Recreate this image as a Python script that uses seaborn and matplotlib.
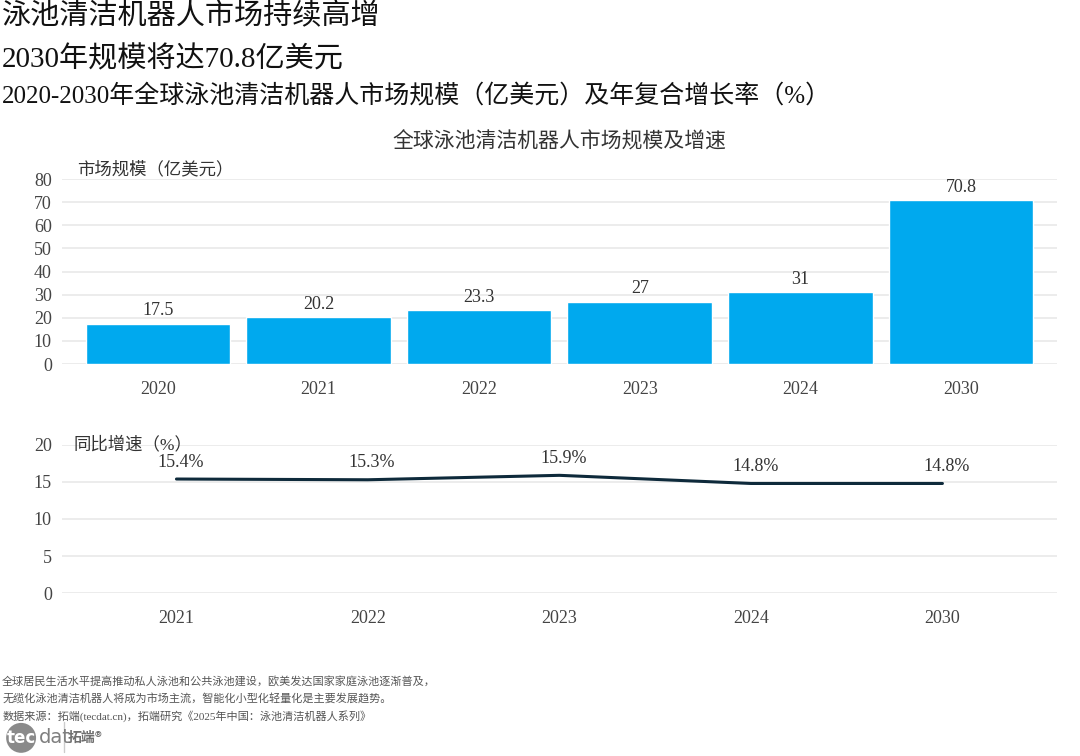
import pandas as pd
import matplotlib.pyplot as plt
import seaborn as sns

years = ["2020", "2021", "2022", "2023", "2024", "2030"]
market_size = [17.5, 20.2, 23.3, 27, 31, 70.8]
size_labels = ["17.5", "20.2", "23.3", "27", "31", "70.8"]

growth_years = ["2021", "2022", "2023", "2024", "2030"]
growth_rate = [15.4, 15.3, 15.9, 14.8, 14.8]
growth_labels = ["15.4%", "15.3%", "15.9%", "14.8%", "14.8%"]

footnotes = [
    "全球居民生活水平提高推动私人泳池和公共泳池建设，欧美发达国家家庭泳池逐渐普及，",
    "无缆化泳池清洁机器人将成为市场主流，智能化小型化轻量化是主要发展趋势。",
    "数据来源：拓端(tecdat.cn)，拓端研究《2025年中国：泳池清洁机器人系列》",
]

sns.set_theme(style="white")
plt.rcParams["font.family"] = ["Liberation Serif", "Noto Sans CJK SC", "DejaVu Sans"]

df_size = pd.DataFrame({"year": years, "size": market_size})
df_growth = pd.DataFrame({"year": growth_years, "rate": growth_rate})

bar_color = "#00A9EE"
line_color = "#0E2A3B"
grid_color = "#E9E9E9"
text_color = "#333333"

fig = plt.figure(figsize=(10.8, 7.56), dpi=100)

# top: market size bars
ax1 = fig.add_axes([0.057, 0.5185, 0.922, 0.2445])
sns.barplot(data=df_size, x="year", y="size", color=bar_color, width=0.9,
            saturation=1, ax=ax1)
ax1.bar_label(ax1.containers[0], labels=size_labels, padding=3, fontsize=13,
              color=text_color)
ax1.set_xlim(-0.6, 5.6)
ax1.set_ylim(0, 80)
ax1.set_yticks(range(0, 81, 10))
ax1.yaxis.grid(True, color=grid_color, linewidth=1.2)
ax1.set_axisbelow(True)
ax1.set_xlabel("")
ax1.set_ylabel("")
ax1.tick_params(axis="both", length=0, labelsize=13, colors="#444444")
ax1.tick_params(axis="x", pad=12)
ax1.tick_params(axis="y", pad=7)
sns.despine(ax=ax1, left=True, bottom=True)
ax1.text(0.016, 1.005, "市场规模（亿美元）", transform=ax1.transAxes,
         fontsize=12.5, color=text_color, va="bottom")

# bottom: growth line
ax2 = fig.add_axes([0.057, 0.2156, 0.922, 0.1958])
sns.lineplot(data=df_growth, x="year", y="rate", color=line_color,
             linewidth=2.2, ax=ax2)
for i, (v, lab) in enumerate(zip(growth_rate, growth_labels)):
    ax2.annotate(lab, (i, v), xytext=(3, 6), textcoords="offset points",
                 ha="center", va="bottom", fontsize=13, color=text_color)
ax2.set_xlim(-0.6, 4.6)
ax2.set_ylim(0, 20)
ax2.set_yticks(range(0, 21, 5))
ax2.yaxis.grid(True, color=grid_color, linewidth=1.2)
ax2.set_axisbelow(True)
ax2.set_xlabel("")
ax2.set_ylabel("")
ax2.tick_params(axis="both", length=0, labelsize=13, colors="#444444")
ax2.tick_params(axis="x", pad=12)
ax2.tick_params(axis="y", pad=7)
sns.despine(ax=ax2, left=True, bottom=True)
ax2.text(0.012, 1.0, "同比增速（%）", transform=ax2.transAxes,
         fontsize=12.5, color=text_color, va="center")

# titles
fig.text(0.002, 0.980, "泳池清洁机器人市场持续高增", fontsize=21, color="#111111", va="center")
fig.text(0.002, 0.921, "2030年规模将达70.8亿美元", fontsize=21, color="#111111", va="center")
fig.text(0.002, 0.873, "2020-2030年全球泳池清洁机器人市场规模（亿美元）及年复合增长率（%）",
         fontsize=18, color="#111111", va="center")
fig.text(0.518, 0.812, "全球泳池清洁机器人市场规模及增速", fontsize=15,
         color=text_color, ha="center", va="center")

# footnotes
for k, line in enumerate(footnotes):
    fig.text(0.002, 0.099 - k * 0.023, line, fontsize=8, color="#555555", va="center")

# logo
fig.text(0.006, 0.024, "tec", fontsize=12, color="white", va="center", fontweight="bold",
         family="DejaVu Sans",
         bbox=dict(boxstyle="circle,pad=0.02", fc="#8A8A8A", ec="none"))
fig.text(0.036, 0.024, "dat", fontsize=14, color="#7F7F7F", va="center",
         family="DejaVu Sans")
fig.add_artist(plt.Line2D([0.059, 0.059], [0.005, 0.045], color="#CCCCCC", linewidth=1))
fig.text(0.063, 0.024, "拓端®", fontsize=10, color="#6F6F6F", va="center",
         fontweight="bold", family=["Noto Sans CJK SC", "DejaVu Sans"])

fig.savefig("out.png", dpi=100, facecolor="white")
